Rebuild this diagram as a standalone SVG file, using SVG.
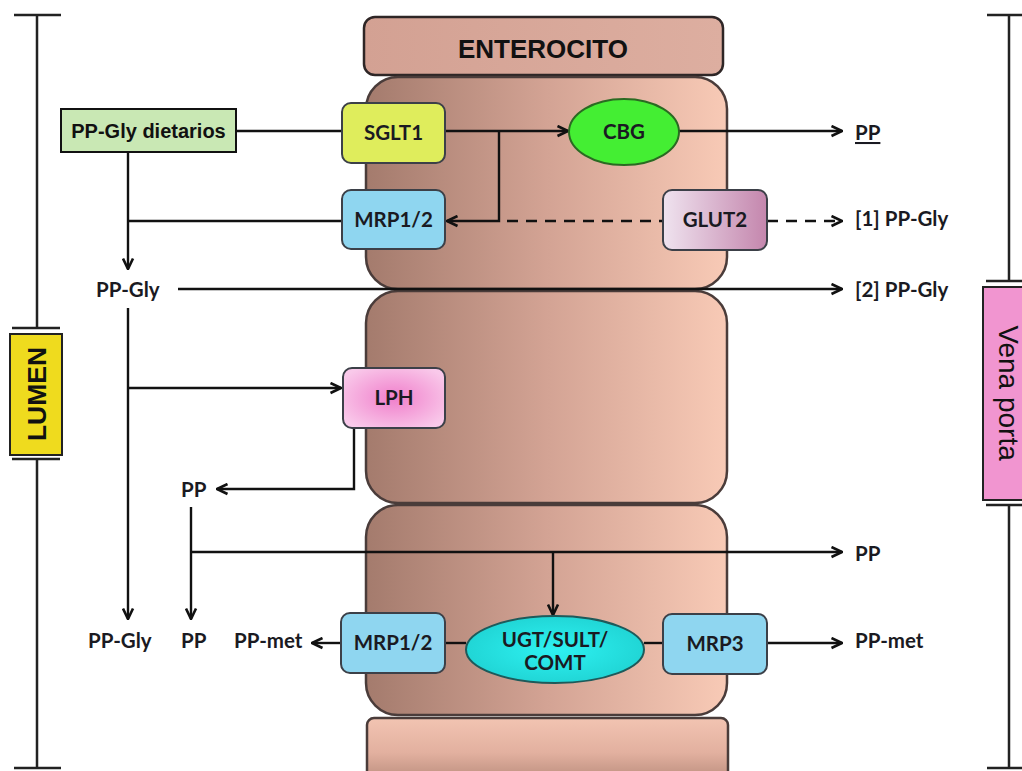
<svg xmlns="http://www.w3.org/2000/svg" width="1022" height="771" viewBox="0 0 1022 771">
<defs>
  <linearGradient id="cellG" x1="0" y1="0" x2="1" y2="0">
    <stop offset="0" stop-color="#a47b6d"/>
    <stop offset="0.5" stop-color="#d3a394"/>
    <stop offset="1" stop-color="#f8cab6"/>
  </linearGradient>
  <linearGradient id="headG" x1="0" y1="0" x2="1" y2="0">
    <stop offset="0" stop-color="#d3a193"/>
    <stop offset="1" stop-color="#ddaea0"/>
  </linearGradient>
  <linearGradient id="cell4G" x1="0" y1="0" x2="0" y2="1">
    <stop offset="0" stop-color="#f2c4b2"/>
    <stop offset="0.5" stop-color="#e2b09f"/>
    <stop offset="1" stop-color="#b08474"/>
  </linearGradient>
  <linearGradient id="glutG" x1="0" y1="0" x2="1" y2="0">
    <stop offset="0" stop-color="#efe3ef"/>
    <stop offset="1" stop-color="#c486ad"/>
  </linearGradient>
  <radialGradient id="lphG" cx="0.5" cy="0.5" r="0.6">
    <stop offset="0" stop-color="#f07fcb"/>
    <stop offset="1" stop-color="#f9c9ea"/>
  </radialGradient>
  <radialGradient id="ugtG" cx="0.5" cy="0.5" r="0.6">
    <stop offset="0" stop-color="#2ef2f2"/>
    <stop offset="1" stop-color="#1ed0d0"/>
  </radialGradient>
  <marker id="arr" markerUnits="userSpaceOnUse" viewBox="0 0 13 13" refX="12" refY="6.5" markerWidth="13" markerHeight="13" orient="auto">
    <path d="M1.5,1.5 L12,6.5 L1.5,11.5" fill="none" stroke="#111" stroke-width="2.6"/>
  </marker>
</defs>
<style>
  .cell{fill:url(#cellG);stroke:#4a3c3a;stroke-width:2.5}
  .box{stroke:#3c4048;stroke-width:2}
  .lbl{font-family:Lato,"Liberation Sans",sans-serif;font-weight:bold;font-size:20.5px;fill:#1a1a22}
  .c{text-anchor:middle}
  .con{fill:none;stroke:#111;stroke-width:2.4}
  .dash{stroke-dasharray:11 8}
  .brk{stroke:#222;stroke-width:2.5;fill:none}
</style>
<rect width="1022" height="771" fill="#ffffff"/>

<g id="bracket-left">
  <path class="brk" d="M14,15 H61 M37,15 V328 M12,328 H60 M12,459 H60 M37,459 V768 M14,768 H61"/>
</g>
<g id="lumen">
  <rect x="10" y="334" width="52" height="121" fill="#efdb1e" stroke="#222" stroke-width="2"/>
  <text transform="translate(36,394) rotate(-90)" text-anchor="middle" y="9.5" font-family="Liberation Sans, Arial, sans-serif" font-weight="bold" font-size="26.5" fill="#111">LUMEN</text>
</g>
<g id="bracket-right">
  <path class="brk" d="M987,15 H1022 M1009,15 V281 M986,281 H1022 M986,505 H1022 M1009,505 V768 M987,768 H1022"/>
</g>
<g id="vena-porta">
  <rect x="983" y="287" width="50" height="213" fill="#f195d0" stroke="#222" stroke-width="2"/>
  <text transform="translate(1009,393) rotate(90)" text-anchor="middle" y="10" font-family="Liberation Sans, Arial, sans-serif" font-size="28" fill="#111">Vena porta</text>
</g>

<g id="enterocito">
  <rect x="364" y="17" width="359" height="58" rx="11" fill="url(#headG)" stroke="#2e2626" stroke-width="2.5"/>
  <text x="543" y="58" text-anchor="middle" font-family="Liberation Sans, Arial, sans-serif" font-weight="bold" font-size="26" fill="#111">ENTEROCITO</text>
</g>
<g id="cell1"><rect class="cell" x="366" y="77" width="361" height="212" rx="32"/></g>
<g id="cell2"><rect class="cell" x="366" y="291" width="361" height="212" rx="32"/></g>
<g id="cell3"><rect class="cell" x="366" y="505" width="361" height="210" rx="32"/></g>
<g id="cell4"><rect x="367" y="718" width="361" height="70" rx="7" fill="url(#cell4G)" stroke="#4a3c3a" stroke-width="2.5"/></g>

<g id="connectors">
  <path class="con" d="M236,131 H342"/>
  <path class="con" d="M445,131 H568" marker-end="url(#arr)"/>
  <path class="con" d="M499,131 V221 H447" marker-end="url(#arr)"/>
  <path class="con dash" d="M507,221 H663"/>
  <path class="con dash" d="M767,221 H842" marker-end="url(#arr)"/>
  <path class="con" d="M679,131 H842" marker-end="url(#arr)"/>
  <path class="con" d="M128,152 V269" marker-end="url(#arr)"/>
  <path class="con" d="M128,221 H342"/>
  <path class="con" d="M178,289 H842" marker-end="url(#arr)"/>
  <path class="con" d="M128,308 V619" marker-end="url(#arr)"/>
  <path class="con" d="M128,388 H341" marker-end="url(#arr)"/>
  <path class="con" d="M354,428 V489 H217" marker-end="url(#arr)"/>
  <path class="con" d="M191,507 V619" marker-end="url(#arr)"/>
  <path class="con" d="M191,552 H842" marker-end="url(#arr)"/>
  <path class="con" d="M553,552 V615" marker-end="url(#arr)"/>
  <path class="con" d="M341,643 H312" marker-end="url(#arr)"/>
  <path class="con" d="M445,643 H466"/>
  <path class="con" d="M644,643 H663"/>
  <path class="con" d="M767,643 H842" marker-end="url(#arr)"/>
</g>

<g id="pp-gly-dietarios">
  <rect x="61" y="109" width="175" height="43" fill="#c9e8b4" stroke="#111" stroke-width="2"/>
  <text x="148.5" y="138" text-anchor="middle" font-family="Liberation Sans, Arial, sans-serif" font-weight="bold" font-size="20" fill="#111">PP-Gly dietarios</text>
</g>
<g id="sglt1">
  <rect class="box" x="342" y="103" width="103" height="60" rx="9" fill="#dfed5c" stroke="#4a4a30"/>
  <text class="lbl c" x="393.5" y="140">SGLT1</text>
</g>
<g id="mrp12-top">
  <rect class="box" x="342" y="190" width="103" height="59" rx="9" fill="#8fd6f0"/>
  <text class="lbl c" x="393.5" y="227">MRP1/2</text>
</g>
<g id="cbg">
  <ellipse cx="624" cy="132" rx="55" ry="33" fill="#44ee33" stroke="#2a6a22" stroke-width="2"/>
  <text class="lbl c" x="624" y="139" fill="#123a10">CBG</text>
</g>
<g id="glut2">
  <rect class="box" x="663" y="190" width="104" height="60" rx="9" fill="url(#glutG)" stroke="#4a3a44"/>
  <text class="lbl c" x="715" y="227">GLUT2</text>
</g>
<g id="lph">
  <rect class="box" x="343" y="368" width="102" height="60" rx="9" fill="url(#lphG)" stroke="#4a3a44"/>
  <text class="lbl c" x="394" y="405">LPH</text>
</g>
<g id="mrp12-bottom">
  <rect class="box" x="341" y="613" width="104" height="60" rx="9" fill="#8fd6f0"/>
  <text class="lbl c" x="393" y="650">MRP1/2</text>
</g>
<g id="ugt">
  <ellipse cx="555" cy="649.5" rx="89" ry="33.5" fill="url(#ugtG)" stroke="#1e5a5a" stroke-width="2"/>
  <text class="lbl c" x="555" y="647">UGT/SULT/</text>
  <text class="lbl c" x="555" y="670">COMT</text>
</g>
<g id="mrp3">
  <rect class="box" x="663" y="614" width="104" height="60" rx="9" fill="#8fd6f0"/>
  <text class="lbl c" x="715" y="651">MRP3</text>
</g>

<g id="labels">
  <text class="lbl" x="855" y="140" text-decoration="underline">PP</text>
  <text class="lbl" x="855" y="226">[1] PP-Gly</text>
  <text class="lbl" x="855" y="297">[2] PP-Gly</text>
  <text class="lbl" x="96" y="297">PP-Gly</text>
  <text class="lbl" x="181" y="497">PP</text>
  <text class="lbl" x="855" y="561">PP</text>
  <text class="lbl" x="88" y="648">PP-Gly</text>
  <text class="lbl" x="181" y="648">PP</text>
  <text class="lbl" x="234" y="648">PP-met</text>
  <text class="lbl" x="855" y="648">PP-met</text>
</g>
</svg>
